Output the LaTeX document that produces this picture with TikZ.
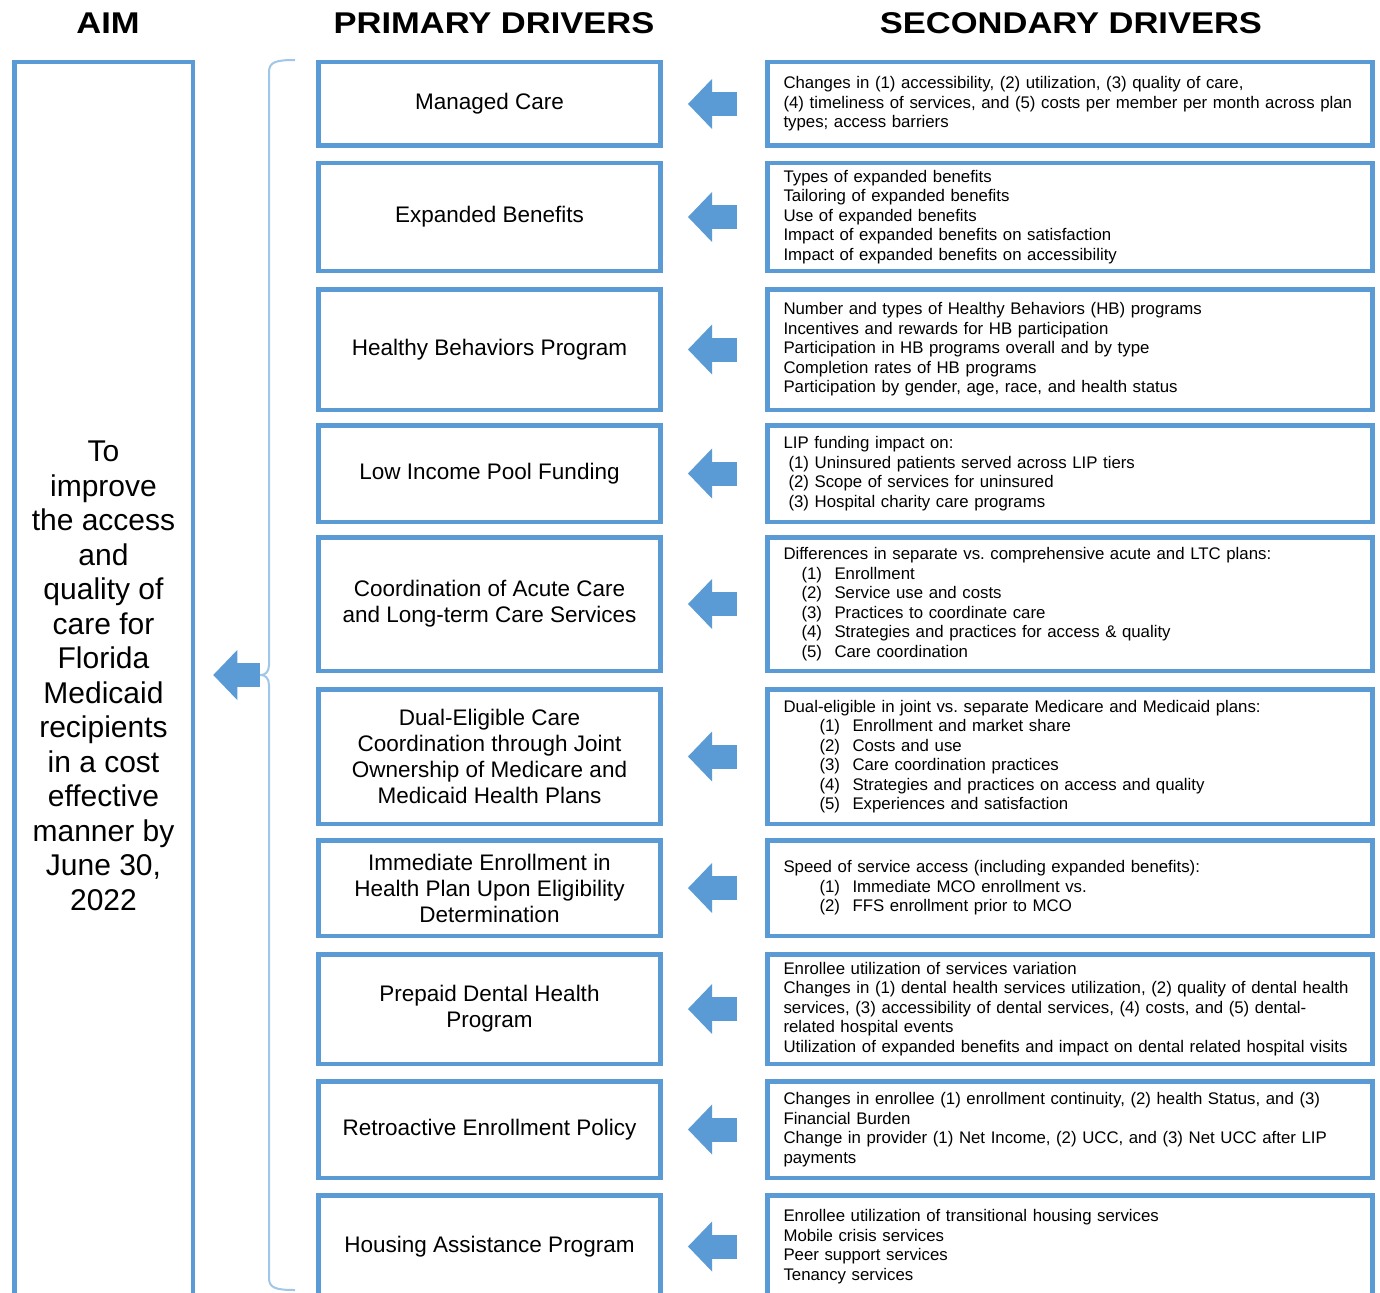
\documentclass[tikz,border=0pt]{standalone}
\usepackage{fontspec}
\setmainfont{Liberation Sans}
\newfontfamily\headfont{Liberation Sans}[FakeStretch=1.15]
\usetikzlibrary{arrows.meta}
\frenchspacing

\definecolor{boxblue}{RGB}{91,155,213}
\definecolor{braceblue}{RGB}{160,198,232}

% numbered line inside a secondary box
\newcommand\numline[3]{\hspace*{#1}\makebox[33pt][l]{#2}#3}

\begin{document}
\begin{tikzpicture}[x=1pt,y=-1pt,
    drv/.style={draw=boxblue,line width=4.5pt,rectangle,outer sep=0pt,inner sep=0pt},
    prim/.style={drv,minimum width=342pt,align=center,font=\fontsize{22.5}{26}\selectfont},
    sec/.style={drv,minimum width=605pt,text width=573pt,inner xsep=16pt,align=left,font=\fontsize{16.8}{19.5}\selectfont},
    head/.style={font=\headfont\bfseries\fontsize{30}{34}\selectfont},
    blockarrow/.style={draw=boxblue,line width=24pt,-{Triangle[width=50pt,length=24pt,line width=0pt]},shorten <=30.5pt,shorten >=27.5pt}]

    \useasboundingbox (0,0) rectangle (1380,1292);
    \fill[white] (0,0) rectangle (1380,1292);

    % column heads
    \node[head] (aimhead)  at (108,23)  {AIM};
    \node[head] (primhead) at (494,23)  {PRIMARY DRIVERS};
    \node[head] (sechead)  at (1071,23) {SECONDARY DRIVERS};

    % aim
    \node[drv,minimum width=178.5pt,minimum height=1257.75pt] (aim) at (103.5,691) {};
    \node[align=center,font=\fontsize{30}{34.5}\selectfont] (aimtxt) at (103.5,676)
        {To\\improve\\the access\\and\\quality of\\care for\\Florida\\Medicaid\\recipients\\in a cost\\effective\\manner by\\June 30,\\2022};

    % primary drivers
    \node[prim,minimum height=83.5pt]  (p1)  at (489.5,104)    {Managed Care};
    \node[prim,minimum height=107.5pt] (p2)  at (489.5,217)    {Expanded Benefits};
    \node[prim,minimum height=120.5pt] (p3)  at (489.5,349.5)  {Healthy Behaviors Program};
    \node[prim,minimum height=96.5pt]  (p4)  at (489.5,473.5)  {Low Income Pool Funding};
    \node[prim,minimum height=133.5pt] (p5)  at (489.5,604)    {Coordination of Acute Care\\and Long-term Care Services};
    \node[prim,minimum height=134.5pt] (p6)  at (489.5,756.5)  {Dual-Eligible Care\\Coordination through Joint\\Ownership of Medicare and\\Medicaid Health Plans};
    \node[prim,minimum height=95.5pt]  (p7)  at (489.5,888)    {Immediate Enrollment in\\Health Plan Upon Eligibility\\Determination};
    \node[prim,minimum height=109.5pt] (p8)  at (489.5,1009)   {Prepaid Dental Health\\Program};
    \node[prim,minimum height=96.5pt]  (p9)  at (489.5,1129.5) {Retroactive Enrollment Policy};
    \node[prim,minimum height=102.5pt] (p10) at (489.5,1246.5) {Housing Assistance Program};

    % secondary drivers
    \node[sec,minimum height=83.5pt] (s1) at (1070,104)
        {Changes in (1) accessibility, (2) utilization, (3) quality of care,\\
         (4) timeliness of services, and (5) costs per member per month across plan\\
         types; access barriers};
    \node[sec,minimum height=107.5pt] (s2) at (1070,217)
        {Types of expanded benefits\\
         Tailoring of expanded benefits\\
         Use of expanded benefits\\
         Impact of expanded benefits on satisfaction\\
         Impact of expanded benefits on accessibility};
    \node[sec,minimum height=120.5pt] (s3) at (1070,349.5)
        {Number and types of Healthy Behaviors (HB) programs\\
         Incentives and rewards for HB participation\\
         Participation in HB programs overall and by type\\
         Completion rates of HB programs\\
         Participation by gender, age, race, and health status};
    \node[sec,minimum height=96.5pt] (s4) at (1070,473.5)
        {LIP funding impact on:\\
         \hspace*{5pt}(1) Uninsured patients served across LIP tiers\\
         \hspace*{5pt}(2) Scope of services for uninsured\\
         \hspace*{5pt}(3) Hospital charity care programs};
    \node[sec,minimum height=133.5pt] (s5) at (1070,604)
        {Differences in separate vs. comprehensive acute and LTC plans:\\
         \numline{18pt}{(1)}{Enrollment}\\
         \numline{18pt}{(2)}{Service use and costs}\\
         \numline{18pt}{(3)}{Practices to coordinate care}\\
         \numline{18pt}{(4)}{Strategies and practices for access \& quality}\\
         \numline{18pt}{(5)}{Care coordination}};
    \node[sec,minimum height=134.5pt] (s6) at (1070,756.5)
        {Dual-eligible in joint vs. separate Medicare and Medicaid plans:\\
         \numline{36pt}{(1)}{Enrollment and market share}\\
         \numline{36pt}{(2)}{Costs and use}\\
         \numline{36pt}{(3)}{Care coordination practices}\\
         \numline{36pt}{(4)}{Strategies and practices on access and quality}\\
         \numline{36pt}{(5)}{Experiences and satisfaction}};
    \node[sec,minimum height=95.5pt] (s7) at (1070,888)
        {Speed of service access (including expanded benefits):\\
         \numline{36pt}{(1)}{Immediate MCO enrollment vs.}\\
         \numline{36pt}{(2)}{FFS enrollment prior to MCO}};
    \node[sec,minimum height=109.5pt] (s8) at (1070,1009)
        {Enrollee utilization of services variation\\
         Changes in (1) dental health services utilization, (2) quality of dental health\\
         services, (3) accessibility of dental services, (4) costs, and (5) dental-\\
         related hospital events\\
         Utilization of expanded benefits and impact on dental related hospital visits};
    \node[sec,minimum height=96.5pt] (s9) at (1070,1129.5)
        {Changes in enrollee (1) enrollment continuity, (2) health Status, and (3)\\
         Financial Burden\\
         Change in provider (1) Net Income, (2) UCC, and (3) Net UCC after LIP\\
         payments};
    \node[sec,minimum height=102.5pt] (s10) at (1070,1246.5)
        {Enrollee utilization of transitional housing services\\
         Mobile crisis services\\
         Peer support services\\
         Tenancy services};

    % secondary -> primary
    \draw[blockarrow] (s1) -- (p1);
    \draw[blockarrow] (s2) -- (p2);
    \draw[blockarrow] (s3) -- (p3);
    \draw[blockarrow] (s4) -- (p4);
    \draw[blockarrow] (s5) -- (p5);
    \draw[blockarrow] (s6) -- (p6);
    \draw[blockarrow] (s7) -- (p7);
    \draw[blockarrow] (s8) -- (p8);
    \draw[blockarrow] (s9) -- (p9);
    \draw[blockarrow] (s10) -- (p10);

    % brace round the primary drivers
    \coordinate (bracetip) at (261,675);
    \draw[braceblue,line width=2pt] (295,60) .. controls (276,60) and (269,62) .. (269,72)
        -- (269,665) .. controls (269,672) and (265,675) .. (bracetip)
        .. controls (265,675) and (269,678) .. (269,685)
        -- (269,1278) .. controls (269,1288) and (276,1290) .. (295,1290);

    % primary -> aim
    \draw[blockarrow,shorten <=1pt,shorten >=20.5pt] (bracetip) -- (bracetip -| aim.east);
\end{tikzpicture}
\end{document}
